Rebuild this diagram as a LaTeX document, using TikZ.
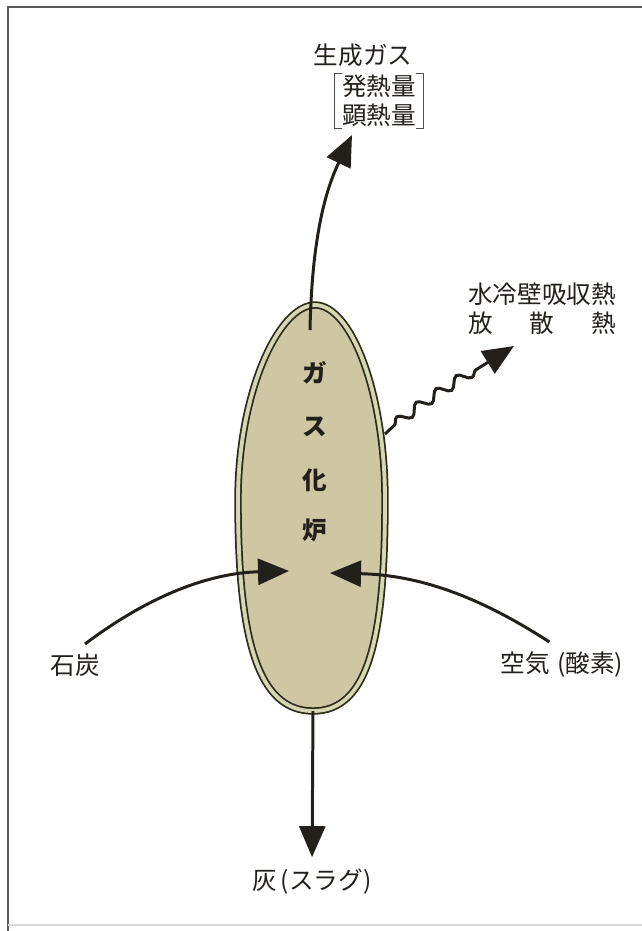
\documentclass[tikz,border=0pt]{standalone}
\usepackage{fontspec}
\newfontfamily\jp{Noto Sans CJK JP}
\usepackage{tikz}
\usetikzlibrary{positioning,arrows.meta,calc,decorations.pathmorphing}
\definecolor{inkc}{RGB}{35,32,28}
\definecolor{wallc}{RGB}{45,44,28}
\definecolor{bandc}{RGB}{214,214,178}
\definecolor{furnc}{RGB}{207,198,163}
\definecolor{framec}{RGB}{90,90,90}

\begin{document}
\begin{tikzpicture}[x=0.02cm,y=-0.02cm,
    lbl/.style={font=\jp\fontsize{14pt}{16.5pt}\selectfont, text=inkc, inner sep=1pt},
    furnlbl/.style={font=\jp\bfseries\fontsize{14pt}{16pt}\selectfont, text=inkc},
    flow/.style={line width=1.7pt, draw=inkc, -{Triangle[length=0.62cm,width=0.52cm]}},
    heat/.style={flow, decorate, decoration={snake, segment length=0.48cm, amplitude=0.1cm, pre length=0.25cm, post length=0.7cm}}]
  \useasboundingbox (0,0) rectangle (642,931);
  % frame
  \draw[framec, line width=1.1pt] (642,7) -- (8,7) -- (8,931);
  \draw[black!15, line width=0.8pt] (8,925) -- (642,925);
  % gasifier vessel
  \draw[wallc, line width=1pt, double=bandc, double distance=2.2pt, fill=furnc]
    (315,305) .. controls (351,305) and (385,392) .. (385,500)
    .. controls (385,640) and (368,711) .. (313,711)
    .. controls (258,711) and (238,640) .. (238,500)
    .. controls (238,392) and (279,305) .. (315,305) -- cycle;
  \node[furnlbl] (ga)  at (315,373) {ガ};
  \node[furnlbl] (su)  at (315,427) {ス};
  \node[furnlbl] (ka)  at (315,480) {化};
  \node[furnlbl] (ro)  at (315,530) {炉};
  % labels
  \node[lbl] (gas)  at (363,55) {生成ガス};
  \node[lbl, align=left, inner xsep=4pt] (hv) at (379,101) {発熱量\\顕熱量};
  \node[lbl, align=left] (loss) at (542,309) {水冷壁吸収熱\\放\hspace{1.5em}散\hspace{1.5em}熱};
  \node[lbl] (coal) at (75,665) {石炭};
  \node[lbl] (air)  at (562,665) {空気\hspace{0.3em}(酸素)};
  \node[lbl] (ash)  at (312,882) {灰\hspace{0.15em}(スラグ)};
  % brackets
  \draw[inkc!80, line width=0.5pt] ([xshift=4pt]hv.north west) -- (hv.north west) -- (hv.south west) -- ([xshift=4pt]hv.south west);
  \draw[inkc!80, line width=0.5pt] ([xshift=-4pt]hv.north east) -- (hv.north east) -- (hv.south east) -- ([xshift=-4pt]hv.south east);
  % ends of the flows
  \coordinate (gasout)  at (310,330);
  \coordinate (gastip)  at (352,135);
  \coordinate (wallr)   at (385,434);
  \coordinate (heattip) at (514,346);
  \coordinate (coaltip) at (289,571);
  \coordinate (airtip)  at (330,573);
  \coordinate (bottom)  at (313,711);
  % flows
  \draw[flow] (gasout) .. controls (312,230) and (328,185) .. (gastip);
  \draw[heat] (wallr) .. controls (400,418) and (440,392) .. (heattip);
  \draw[flow, shorten <=0.25cm] (coal.north) .. controls (150,595) and (210,573) .. (coaltip);
  \draw[flow, shorten <=0.3cm] (air.north) .. controls (480,597) and (420,575) .. (airtip);
  \draw[flow, shorten >=0.2cm] (bottom) -- (ash.north);
\end{tikzpicture}
\end{document}
